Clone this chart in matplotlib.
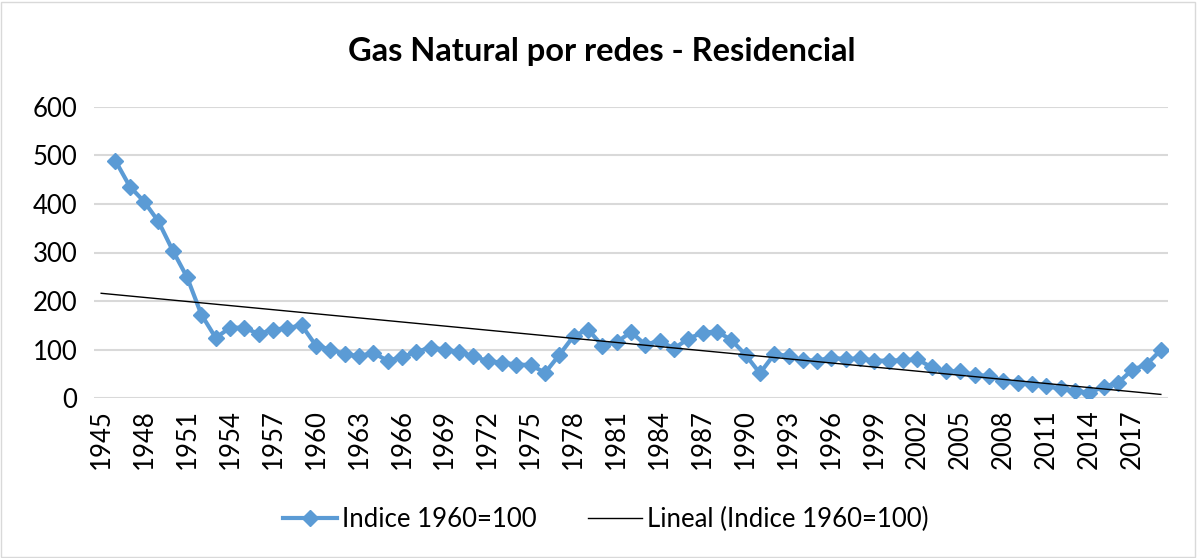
import numpy as np
import matplotlib
matplotlib.use("Agg")
import matplotlib.pyplot as plt
from matplotlib.patches import Rectangle

plt.rcParams['font.family'] = ['Lato', 'DejaVu Sans']

# serie anual, 1945 sin dato
years = list(range(1945, 2020))
indice = [np.nan,
          489, 436, 405, 364, 304, 249, 172, 124, 145, 145,
          132, 141, 144, 150, 108, 100, 91, 86, 93, 77,
          84, 95, 104, 100, 95, 86, 76, 73, 69, 68,
          52, 89, 128, 141, 108, 115, 136, 110, 118, 102,
          122, 135, 137, 120, 89, 51, 90, 87, 78, 77,
          83, 80, 82, 77, 77, 78, 80, 63, 55, 55,
          48, 45, 36, 30, 29, 24, 20, 15, 11, 23,
          31, 58, 69, 99]
tick_years = list(range(1945, 2018, 3))
yticks = [0, 100, 200, 300, 400, 500, 600]

title = 'Gas Natural por redes - Residencial'
serie_label = 'Indice 1960=100'
trend_label = 'Lineal (Indice 1960=100)'

blue = '#5B9BD5'
grid = '#D9D9D9'

x = np.array(years, dtype=float)
y = np.array(indice, dtype=float)
ok = ~np.isnan(y)
coef = np.polyfit(x[ok], y[ok], 1)
trend = np.polyval(coef, x)

fig = plt.figure(figsize=(11.97, 5.58), dpi=100)
ax = fig.add_axes([94 / 1197, 1 - 398 / 558, (1168 - 94) / 1197, (398 - 107) / 558])

ax.plot(x, y, color=blue, lw=3, marker='D', ms=8.5, mfc=blue, mec=blue,
        label=serie_label, zorder=3)
ax.plot(x, trend, color='black', lw=1, label=trend_label, zorder=4)

ax.set_xlim(1944.5, 2019.5)
ax.set_ylim(0, 600)
ax.set_yticks(yticks)
ax.set_xticks(tick_years)
ax.set_xticklabels([str(t) for t in tick_years], rotation=90)
ax.tick_params(axis='both', length=0, labelsize=18.5, colors='black')
ax.tick_params(axis='y', pad=12)
ax.tick_params(axis='x', pad=8)
ax.grid(axis='y', color=grid, lw=1.5)
ax.set_axisbelow(True)
for s in ax.spines.values():
    s.set_visible(False)

fig.text(602 / 1197, 1 - 52 / 558, title, ha='center', va='center',
         fontsize=23.5, fontweight='bold')

fig.legend(loc='center', bbox_to_anchor=(606 / 1197, 1 - 519 / 558), ncol=2,
           frameon=False, fontsize=18.5, handlelength=2.1, handletextpad=0.2,
           columnspacing=2.0)

fig.add_artist(Rectangle((0.001, 0.002), 0.997, 0.995, transform=fig.transFigure,
                         fill=False, edgecolor=grid, lw=1))

fig.savefig('out.png', dpi=100)
